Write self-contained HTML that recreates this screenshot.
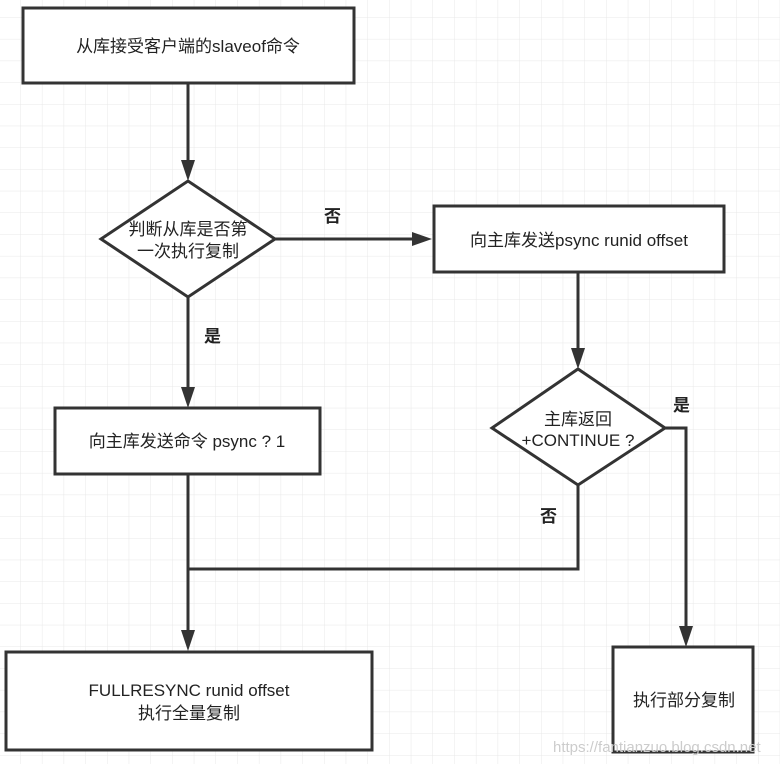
<!DOCTYPE html>
<html><head><meta charset="utf-8"><style>
body{margin:0;background:#fff}
svg{display:block}
text{font-family:"Liberation Sans","Noto Sans CJK SC",sans-serif;font-size:17px;fill:#222}
</style></head><body>
<svg width="780" height="764" viewBox="0 0 780 764" xmlns="http://www.w3.org/2000/svg">
<defs>
<pattern id="g" width="21.7" height="21.7" patternUnits="userSpaceOnUse" x="-1" y="-4">
<path d="M21.7 0V21.7M0 21.7H21.7" stroke="#e8e8e8" stroke-width="1" fill="none"/>
</pattern>
<marker id="a" markerWidth="10" markerHeight="12" refX="5" refY="11" orient="auto-start-reverse" markerUnits="userSpaceOnUse" viewBox="0 0 10 12">
</marker>
</defs>
<rect width="780" height="764" fill="url(#g)"/>
<g stroke="#333" stroke-width="3" fill="none">
<line x1="188" y1="83" x2="188" y2="166"/>
<line x1="275" y1="239" x2="416" y2="239"/>
<line x1="578" y1="272" x2="578" y2="354"/>
<line x1="188" y1="297" x2="188" y2="393"/>
<polyline points="665,428 686,428 686,632"/>
<line x1="188" y1="474" x2="188" y2="636"/>
<polyline points="578,485 578,569 188,569"/>
</g>
<g fill="#333">
<polygon points="181,160 195,160 188,181"/>
<polygon points="412,232 412,246 432,239"/>
<polygon points="571,348 585,348 578,369"/>
<polygon points="181,387 195,387 188,408"/>
<polygon points="679,626 693,626 686,647"/>
<polygon points="181,630 195,630 188,651"/>
</g>
<g stroke="#333" stroke-width="3" fill="#fff">
<rect x="23" y="8" width="331" height="75"/>
<polygon points="101,239 188,181 275,239 188,297"/>
<rect x="434" y="206" width="290" height="66"/>
<polygon points="492,428 578,369 665,428 578,485"/>
<rect x="55" y="408" width="265" height="66"/>
<rect x="6" y="652" width="366" height="98"/>
<rect x="613" y="647" width="140" height="105"/>
</g>
<g text-anchor="middle">
<text x="188" y="52">从库接受客户端的slaveof命令</text>
<text x="188" y="235">判断从库是否第</text>
<text x="188" y="257">一次执行复制</text>
<text x="579" y="246">向主库发送psync runid offset</text>
<text x="578" y="425">主库返回</text>
<text x="578" y="446">+CONTINUE ?</text>
<text x="187" y="447">向主库发送命令 psync ? 1</text>
<text x="189" y="696">FULLRESYNC  runid    offset</text>
<text x="189" y="719">执行全量复制</text>
<text x="684" y="706">执行部分复制</text>
</g>
<g font-weight="bold">
<text x="324" y="222" style="font-weight:bold">否</text>
<text x="204" y="342" style="font-weight:bold">是</text>
<text x="673" y="411" style="font-weight:bold">是</text>
<text x="540" y="522" style="font-weight:bold">否</text>
</g>
<text x="553" y="752" style="font-size:15px;fill:#ccc">https://fantianzuo.blog.csdn.net</text>
</svg>
</body></html>
